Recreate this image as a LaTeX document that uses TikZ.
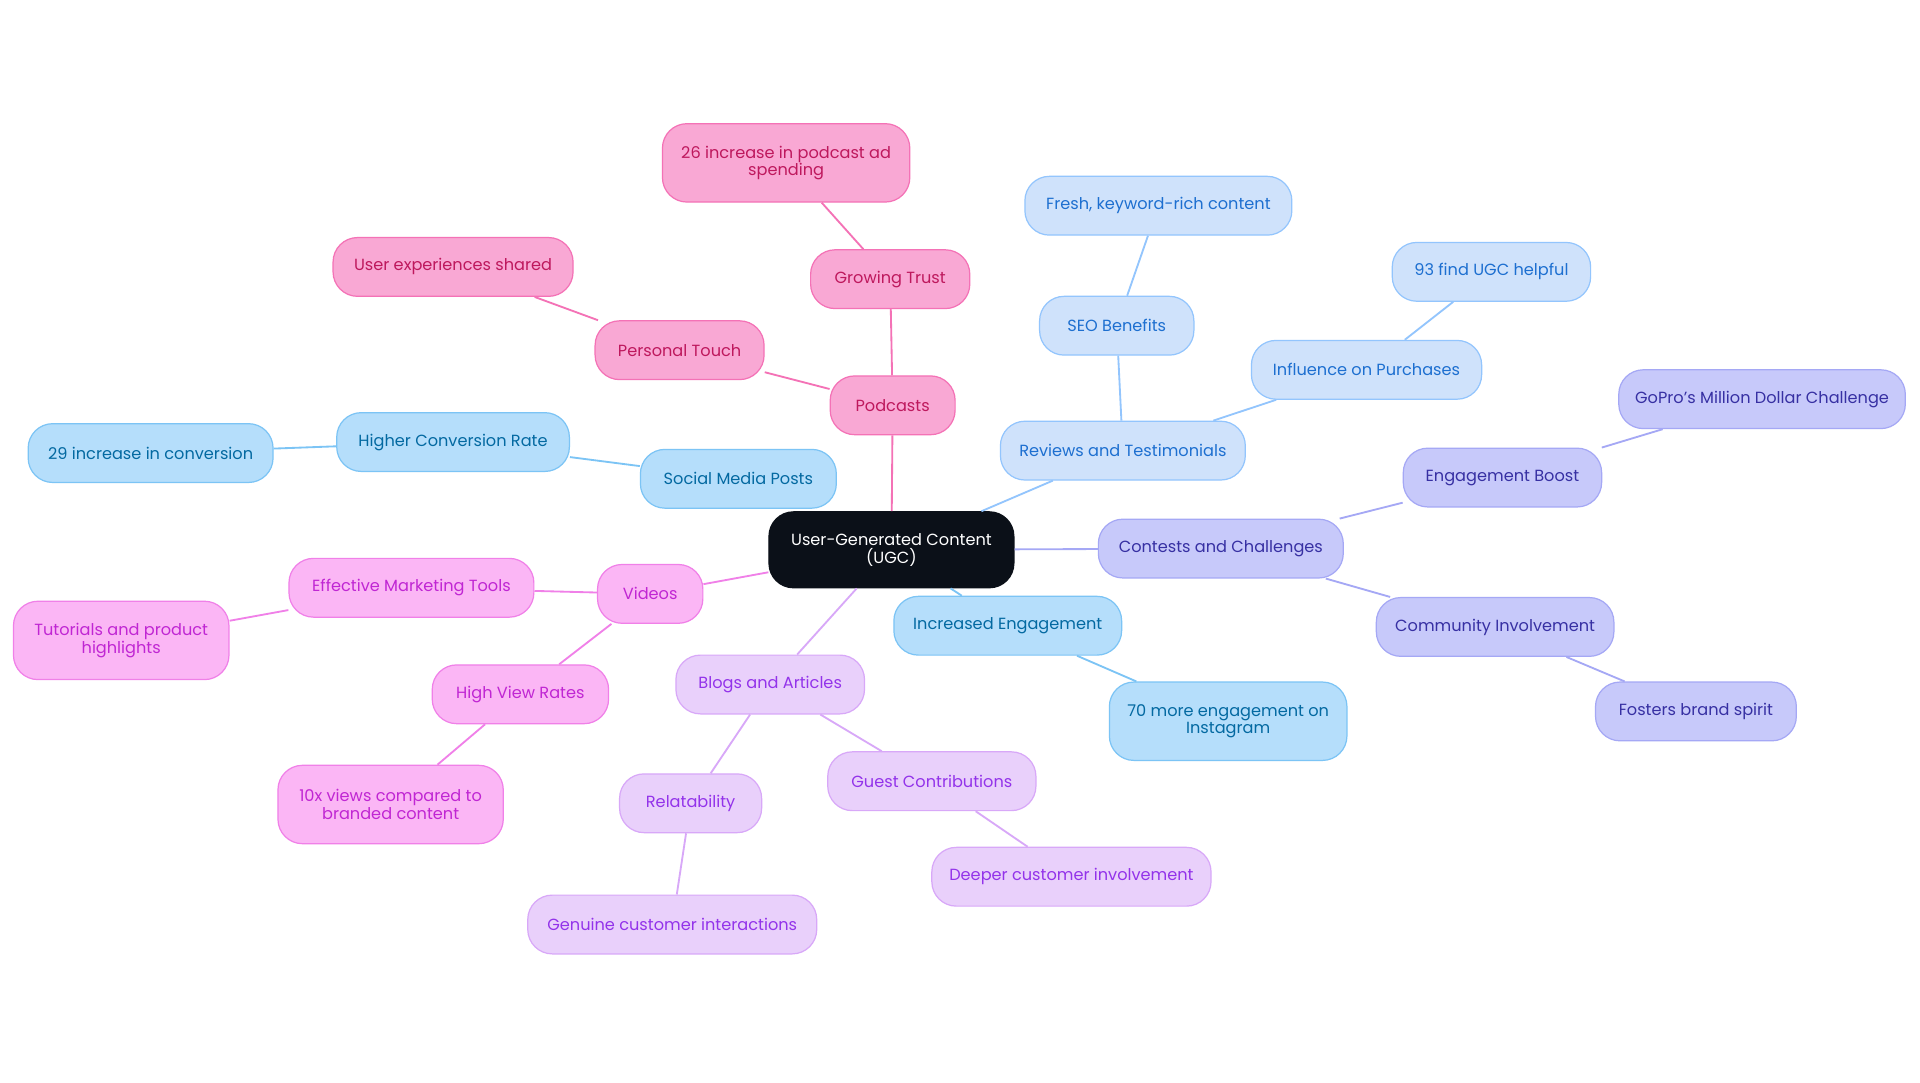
\documentclass[tikz,border=0pt]{standalone}
\usepackage{fontspec}
\setmainfont{Poppins}
\definecolor{pkF}{HTML}{F9A8D4}\definecolor{pkD}{HTML}{F472B6}\definecolor{pkT}{HTML}{BE185D}
\definecolor{lbF}{HTML}{CFE2FB}\definecolor{lbD}{HTML}{93C5FD}\definecolor{lbT}{HTML}{1D6FD0}
\definecolor{skF}{HTML}{B5DEFB}\definecolor{skD}{HTML}{7CC4F5}\definecolor{skT}{HTML}{0369A1}
\definecolor{puF}{HTML}{C7C9FA}\definecolor{puD}{HTML}{A5A8F5}\definecolor{puT}{HTML}{3730A3}
\definecolor{laF}{HTML}{E9D0FB}\definecolor{laD}{HTML}{D8A8F8}\definecolor{laT}{HTML}{9333EA}
\definecolor{mgF}{HTML}{FBB6F5}\definecolor{mgD}{HTML}{F080E8}\definecolor{mgT}{HTML}{C026D3}
\definecolor{rootF}{HTML}{0B1018}
\tikzset{
 box/.style={rounded corners=10pt,minimum height=24pt,align=center,font=\fontsize{6.6}{7.2}\selectfont,line width=0.5pt,inner sep=2pt},
 pk/.style={box,fill=pkF,draw=pkD,text=pkT},
 lb/.style={box,fill=lbF,draw=lbD,text=lbT},
 sk/.style={box,fill=skF,draw=skD,text=skT},
 pu/.style={box,fill=puF,draw=puD,text=puT},
 la/.style={box,fill=laF,draw=laD,text=laT},
 mg/.style={box,fill=mgF,draw=mgD,text=mgT},
 epk/.style={draw=pkD,line width=0.75pt},
 elb/.style={draw=lbD,line width=0.75pt},
 esk/.style={draw=skD,line width=0.75pt},
 epu/.style={draw=puD,line width=0.75pt},
 ela/.style={draw=laD,line width=0.75pt},
 emg/.style={draw=mgD,line width=0.75pt},
}
\begin{document}
\begin{tikzpicture}[x=0.5pt,y=-0.5pt]
\useasboundingbox[fill=white] (0,0) rectangle (1568,884);
% edges first
\begin{scope}[on background layer/.style={}]
\end{scope}
\node[box,fill=rootF,draw=rootF,text=white,minimum width=100pt,minimum height=31pt] (root) at (728,449) {User-Generated Content\\(UGC)};
\node[pk,minimum width=51pt] (pod) at (729,331) {Podcasts};
\node[pk,minimum width=65pt] (gt) at (727,228) {Growing Trust};
\node[pk,minimum width=101pt,minimum height=32pt] (p26) at (642,133) {26 increase in podcast ad\\spending};
\node[pk,minimum width=69pt] (pt) at (555,286) {Personal Touch};
\node[pk,minimum width=98pt] (ues) at (370,218) {User experiences shared};
\node[sk,minimum width=80pt] (smp) at (603,391) {Social Media Posts};
\node[sk,minimum width=95pt] (hcr) at (370,361) {Higher Conversion Rate};
\node[sk,minimum width=100pt] (c29) at (123,370) {29 increase in conversion};
\node[mg,minimum width=43pt] (vid) at (531,485) {Videos};
\node[mg,minimum width=100pt] (emt) at (336,480) {Effective Marketing Tools};
\node[mg,minimum width=88pt,minimum height=32pt] (tut) at (99,523) {Tutorials and product\\highlights};
\node[mg,minimum width=72pt] (hvr) at (425,567) {High View Rates};
\node[mg,minimum width=92pt,minimum height=32pt] (x10) at (319,657) {10x views compared to\\branded content};
\node[la,minimum width=77pt] (blog) at (629,559) {Blogs and Articles};
\node[la,minimum width=58pt] (rel) at (564,656) {Relatability};
\node[la,minimum width=118pt] (gci) at (549,755) {Genuine customer interactions};
\node[la,minimum width=85pt] (gc) at (761,638) {Guest Contributions};
\node[la,minimum width=114pt] (dci) at (875,716) {Deeper customer involvement};
\node[sk,minimum width=93pt] (ie) at (823,511) {Increased Engagement};
\node[sk,minimum width=97pt,minimum height=32pt] (m70) at (1003,589) {70 more engagement on\\Instagram};
\node[pu,minimum width=100pt] (cc) at (997,448) {Contests and Challenges};
\node[pu,minimum width=81pt] (eb) at (1227,390) {Engagement Boost};
\node[pu,minimum width=117pt] (gp) at (1439,326) {GoPro’s Million Dollar Challenge};
\node[pu,minimum width=97pt] (ci) at (1221,512) {Community Involvement};
\node[pu,minimum width=82pt] (fbs) at (1385,581) {Fosters brand spirit};
\node[lb,minimum width=100pt] (rt) at (917,368) {Reviews and Testimonials};
\node[lb,minimum width=63pt] (seo) at (912,266) {SEO Benefits};
\node[lb,minimum width=109pt] (fk) at (946,168) {Fresh, keyword-rich content};
\node[lb,minimum width=94pt] (iop) at (1116,302) {Influence on Purchases};
\node[lb,minimum width=81pt] (u93) at (1218,222) {93 find UGC helpful};
\path[epk] (root) -- (pod) (pod) -- (gt) (gt) -- (p26) (pod) -- (pt) (pt) -- (ues);
\path[esk] (smp) -- (hcr) (hcr) -- (c29) (root) -- (ie) (ie) -- (m70);
\path[emg] (root) -- (vid) (vid) -- (emt) (emt) -- (tut) (vid) -- (hvr) (hvr) -- (x10);
\path[ela] (root) -- (blog) (blog) -- (rel) (rel) -- (gci) (blog) -- (gc) (gc) -- (dci);
\path[epu] (root) -- (cc) (cc) -- (eb) (eb) -- (gp) (cc) -- (ci) (ci) -- (fbs);
\path[elb] (root) -- (rt) (rt) -- (seo) (seo) -- (fk) (rt) -- (iop) (iop) -- (u93);
\end{tikzpicture}
\end{document}
